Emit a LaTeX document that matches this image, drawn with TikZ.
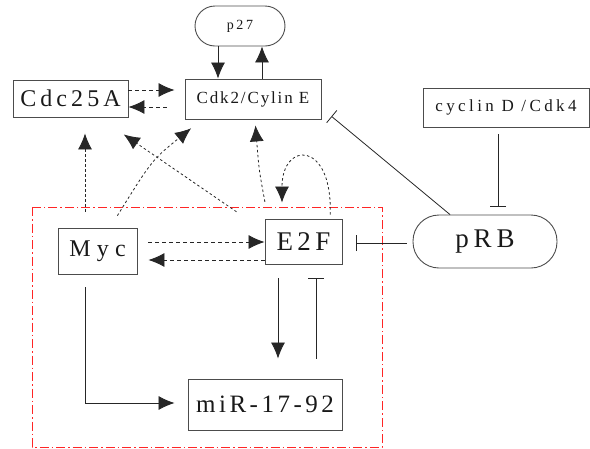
\documentclass[tikz,border=0pt]{standalone}
\usepackage{fontspec}
\setmainfont{Liberation Serif}
\usetikzlibrary{calc,arrows.meta}
\newcommand{\lbl}[2]{\fontsize{#1}{#1}\selectfont\addfontfeature{LetterSpace=#2}}

\begin{document}
\begin{tikzpicture}[x=1pt,y=-1pt,
	box/.style={draw=black!70,line width=0.9pt,inner sep=0pt,text=black!90},
	pill/.style={box,rounded corners=#1},
	act/.style={->,>={Latex[length=16pt,width=14pt]},draw=black!85,line width=0.8pt},
	inh/.style={-{Bar[width=16pt]},draw=black!85,line width=0.8pt},
	dsh/.style={dash pattern=on 4pt off 3pt},
	dts/.style={dash pattern=on 2.5pt off 2.5pt}]
	
	\useasboundingbox (0,0) rectangle (590,448);
	
	\node[box,minimum width=115,minimum height=37] (cdc) at (70.5,98.5) {\lbl{24}{17}Cdc25A};
	\node[box,minimum width=136,minimum height=40] (cdk) at (253,99) {\lbl{17}{11}Cdk2/Cylin E};
	\node[pill=20,minimum width=90,minimum height=40] (p27) at (240,26) {\lbl{14}{18}p27};
	\node[box,minimum width=166,minimum height=39] (cycd) at (506,107.5) {\lbl{17}{20}cyclin D /Cdk4};
	\node[pill=26,minimum width=144,minimum height=53] (prb) at (485,241.5) {\lbl{27}{18}pRB};
	\node[box,minimum width=77,minimum height=45] (e2f) at (303.5,241.5) {\lbl{27}{16}E2F};
	\node[box,minimum width=79,minimum height=46] (myc) at (97.5,251) {\lbl{24}{26}Myc};
	\node[box,minimum width=154,minimum height=51] (mir) at (265,404.5) {\lbl{25}{14}miR-17-92};
	
	% red frame round the E2F/Myc/miR loop
	\draw[red!85,line width=0.8pt,dash pattern=on 9pt off 3pt on 1.5pt off 3pt] (32,207) rectangle (382,447);
	
	\path[act] ($(p27.south)+(-22,0)$) -- ($(cdk.north)+(-35,0)$);
	\path[act] ($(cdk.north)+(9,0)$) -- ($(p27.south)+(22,0)$);
	\path[act,dsh,shorten >=10pt] ($(cdc.east)+(0,-8.5)$) -- ($(cdk.west)+(0,-9)$);
	\path[act,dsh,shorten <=18pt] ($(cdk.west)+(0,8)$) -- ($(cdc.east)+(0,8.5)$);
	
	\path[act,dts,shorten <=16pt,shorten >=16pt] ($(myc.north)+(-12.5,0)$) -- ($(cdc.south)+(14.5,0)$);
	\path[act,dts,shorten <=14pt,shorten >=14pt] ($(myc.north)+(12.5,0)$) .. controls (152,160) .. ($(cdk.south)+(-51,0)$);
	\path[act,dts,shorten <=34pt,shorten >=30pt] ($(e2f.west)+(0,-10.5)$) -- ($(cdc.south)+(28.5,0)$);
	\path[act,dts,shorten <=17pt,shorten >=6pt] ($(e2f.north)+(-35.5,0)$) .. controls (259,170) .. ($(cdk.south)+(2,0)$);
	\path[act,dts,shorten <=4pt,shorten >=16pt] ($(e2f.north)+(26.5,0)$) .. controls +(3,-78) and +(0,-78) .. ($(e2f.north)+(-21.5,0)$);
	
	\path[act,dsh,shorten <=11pt] ($(myc.east)+(0,-9)$) -- ($(e2f.west)+(0,0.5)$);
	\path[act,dsh,shorten >=11pt] ($(e2f.west)+(0,18.5)$) -- ($(myc.east)+(0,9)$);
	
	\path[act,shorten <=14pt,shorten >=20pt] ($(e2f.south)+(-25.5,0)$) -- ($(mir.north)+(13,0)$);
	\path[inh,shorten <=20pt,shorten >=14pt] ($(mir.north)+(51,0)$) -- ($(e2f.south)+(12.5,0)$);
	\path[act,shorten <=13pt,shorten >=13pt] ($(myc.south)+(-12.5,0)$) |- ($(mir.west)+(0,-1.5)$);
	
	\path[inh,shorten <=6pt,shorten >=14pt] ($(prb.west)+(0,1.5)$) -- ($(e2f.east)+(0,1.5)$);
	\path[inh,shorten >=13pt] ($(prb.north)+(-35,0)$) -- ($(cdk.east)+(0,9)$);
	\path[inh,shorten <=7pt,shorten >=8pt] ($(cycd.south)+(-8,0)$) -- ($(prb.north)+(13,0)$);

\end{tikzpicture}
\end{document}
